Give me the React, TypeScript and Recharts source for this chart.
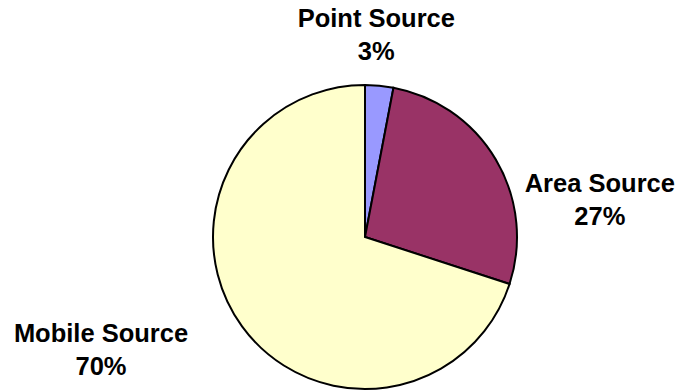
import React from "react";
import { PieChart, Pie, Cell } from "recharts";

const categories = ["Point Source", "Area Source", "Mobile Source"];
const shares = [3, 27, 70];
const colors = ["#9999FF", "#993366", "#FFFFCC"];

const data = categories.map((name, i) => ({ name, value: shares[i] }));
const total = shares.reduce((a, b) => a + b, 0);

const RAD = Math.PI / 180;
// label block offsets (center x, first baseline y) relative to the slice's outer mid point
const LABEL_OFFSETS = [
  { dx: -3, dy: -59 },
  { dx: 104, dy: 32 },
  { dx: -141, dy: 15.5 },
];

const renderLabel = (props: any) => {
  const { cx, cy, midAngle, outerRadius, index, value } = props;
  const px = cx + Math.cos(-midAngle * RAD) * outerRadius;
  const py = cy + Math.sin(-midAngle * RAD) * outerRadius;
  const off = LABEL_OFFSETS[index] || { dx: 0, dy: 0 };
  const x = px + off.dx;
  const y = py + off.dy;
  const pct = Math.round((value / total) * 100);
  return (
    <text
      x={x}
      y={y}
      textAnchor="middle"
      fill="#000"
      style={{ fontFamily: "'Liberation Sans', Arial, sans-serif", fontWeight: 700, fontSize: 25.5 }}
    >
      <tspan x={x} y={y}>{data[index].name}</tspan>
      <tspan x={x} y={y + 33}>{pct}%</tspan>
    </text>
  );
};

export default function App() {
  return (
    <div style={{ position: "absolute", left: 0, top: 0, width: 678, height: 392, background: "#fff" }}>
      <PieChart width={678} height={392} margin={{ top: 0, right: 0, bottom: 0, left: 0 }}>
        <Pie
          data={data}
          dataKey="value"
          nameKey="name"
          cx={365}
          cy={237}
          outerRadius={152}
          startAngle={90}
          endAngle={-270}
          stroke="#000"
          strokeWidth={2}
          label={renderLabel}
          labelLine={false}
          isAnimationActive={false}
        >
          {data.map((d, i) => (
            <Cell key={d.name} fill={colors[i]} stroke="#000" strokeWidth={2} />
          ))}
        </Pie>
      </PieChart>
    </div>
  );
}
